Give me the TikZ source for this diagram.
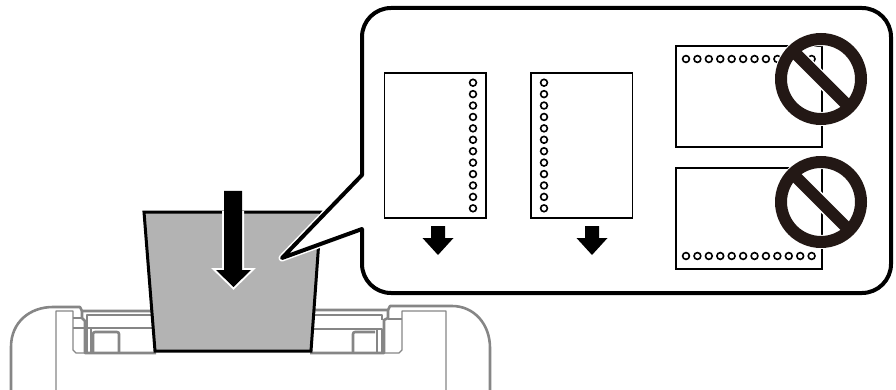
\documentclass[tikz,border=0pt]{standalone}
\definecolor{pgray}{HTML}{868686}
\definecolor{sheet}{HTML}{B3B3B3}
\definecolor{signk}{HTML}{231815}
\tikzset{
  thickgray/.style={draw=pgray,line width=2.6pt,line join=round},
  thingray/.style={draw=pgray,line width=1.3pt,line join=round},
  pagebox/.style={draw=black,line width=1.5pt,fill=white},
  hole/.style={draw=black,line width=1.6pt,fill=white},
}
\newcommand{\ProhibitSign}[2]{%
  \begin{scope}
    \clip (#1,#2) circle (41pt);
    \draw[white,line width=15pt] (#1-40,#2-40) -- (#1+40,#2+40);
  \end{scope}
  \draw[white,line width=14pt] (#1,#2) circle (40pt);
  \draw[signk,line width=12pt] (#1,#2) circle (40pt);
  \begin{scope}
    \clip (#1,#2) circle (41pt);
    \draw[signk,line width=12pt] (#1-40,#2-40) -- (#1+40,#2+40);
  \end{scope}
}
\begin{document}
\begin{tikzpicture}[x=1pt,y=-1pt]
\useasboundingbox (0,0) rectangle (896,390);
% printer body
\draw[thickgray] (11,390) -- (11,347) .. controls (11,322) and (30,307) .. (53,307) -- (80,307) -- (82,311) -- (152,311);
\draw[thickgray] (315,310) -- (388,310) -- (390,306) -- (452,306) .. controls (474,306) and (490,324) .. (490,348) -- (490,390);
\draw[thingray] (56,390) -- (56,311) -- (73,311) -- (73,350) -- (76,353) -- (86,353);
\draw[thingray] (73,318) -- (82,318);
\draw[thingray] (73,328) -- (154,328);
\draw[thingray] (87,353) -- (87,315) -- (152,315);
\draw[thickgray] (82,311) -- (82,318) -- (85,321) -- (85,353) -- (156,353);
\draw[thickgray] (91,328) -- (91,353);
\draw[thickgray,rounded corners=2pt] (93,353) -- (93,332) -- (119,332) -- (119,353);
\draw[thingray] (446,390) -- (446,311) -- (402,311) -- (402,350) -- (399,353) -- (384,353);
\draw[thingray] (402,319) -- (388,319);
\draw[thingray] (312,329) -- (382,329) -- (382,353);
\draw[thingray] (315,315) -- (382,315) -- (382,320);
\draw[thickgray] (388,310) -- (388,318) -- (384,320) -- (384,353) -- (310,353);
\draw[thickgray] (377,329) -- (377,353);
\draw[thickgray,rounded corners=2pt] (353,353) -- (353,332) -- (375,332);
% loaded sheet
\draw[fill=sheet,draw=black,line width=3pt,line join=miter] (144,212) -- (321,212) -- (311,351) -- (155,351) -- cycle;
% feed arrow: white halo, then black body
\path[draw=white,line width=4pt,fill=white,line join=miter] (224,213) -- (242,213) -- (242,270) -- (251,270) -- (233.5,287) -- (216,270) -- (224,270) -- cycle;
\fill[black] (224,191) -- (242,191) -- (242,270) -- (251,270) -- (233.5,287) -- (216,270) -- (224,270) -- cycle;
% callout
\path[draw=white,line width=7pt,line join=round] (362,175) -- (282,258) -- (362,229);
\path[fill=white,draw=black,line width=4pt,line join=miter,rounded corners=29pt]
  (362,175) -- (362,8) -- (891,8) -- (891,293) -- (362,293) [sharp corners] -- (362,229) [line join=round] -- (282,258) -- cycle;
% pages
\draw[pagebox] (384.5,73) rectangle (486,218);
\draw[pagebox] (531,73) rectangle (632.5,218);
\draw[pagebox] (676,46) rectangle (822,147);
\draw[pagebox] (676,168) rectangle (822,269);
\foreach \i in {0,...,11} {
  \draw[hole] (473,{82.7+11.42*\i}) circle (3.4pt);
  \draw[hole] (544,{82.7+11.42*\i}) circle (3.4pt);
  \draw[hole] ({686+11.42*\i},59) circle (3.4pt);
  \draw[hole] ({686+11.42*\i},256) circle (3.4pt);
}
% small arrows
\foreach \c in {438,592} {
  \fill[black] (\c-7,226) -- (\c+7,226) -- (\c+7,238) -- (\c+15.5,238) -- (\c,255) -- (\c-15.5,238) -- (\c-7,238) -- cycle;
}
% prohibition signs
\ProhibitSign{821}{79}
\ProhibitSign{821}{202}
\end{tikzpicture}
\end{document}
